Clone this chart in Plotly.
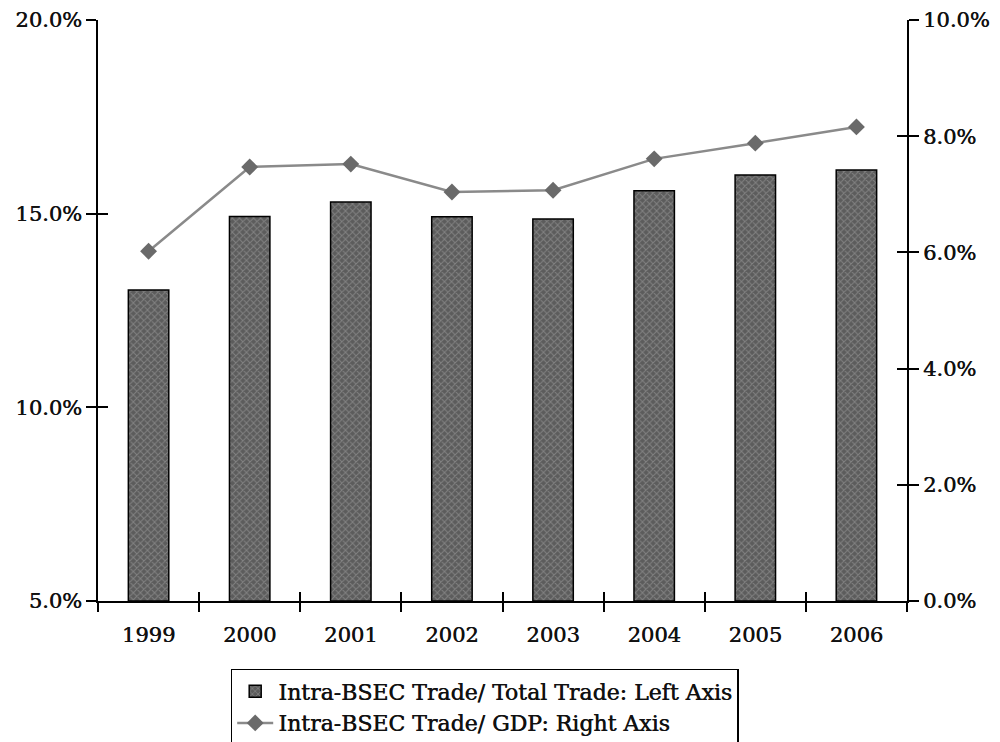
import plotly.graph_objects as go

years = ["1999", "2000", "2001", "2002", "2003", "2004", "2005", "2006"]
trade_share = [13.03, 14.93, 15.30, 14.92, 14.86, 15.59, 16.00, 16.13]   # left axis, %
trade_gdp = [6.02, 7.47, 7.52, 7.04, 7.07, 7.61, 7.88, 8.16]           # right axis, %
left_ticks = [5, 10, 15, 20]
right_ticks = [0, 2, 4, 6, 8, 10]

FONT = "DejaVu Serif"
SHADOW = "0.5px 0px 0px #111111"
fig = go.Figure()
fig.add_trace(go.Bar(
    x=years, y=[v - 5 for v in trade_share], base=5,
    name="Intra-BSEC Trade/ Total Trade: Left Axis",
    marker=dict(color="#5c5c5c", line=dict(color="#000000", width=1.5),
                pattern=dict(shape="x", fgcolor="#a8a8a8", size=5, solidity=0.35)),
    width=0.4, yaxis="y"))
fig.add_trace(go.Scatter(
    x=years, y=trade_gdp, name="Intra-BSEC Trade/ GDP: Right Axis",
    mode="lines+markers", line=dict(color="#8a8a8a", width=2.5),
    marker=dict(symbol="diamond", size=13, color="#6a6a6a"), yaxis="y2"))
# invisible helper traces for overlay axes (crossing ticks)
fig.add_trace(go.Scatter(x=years, y=[None]*len(years), xaxis="x2", yaxis="y3",
                         showlegend=False, hoverinfo="skip"))
fig.add_trace(go.Scatter(x=years, y=[None]*len(years), yaxis="y4",
                         showlegend=False, hoverinfo="skip"))

tickfont = dict(family=FONT, size=21, color="#111111", shadow=SHADOW)
fig.update_layout(
    width=1000, height=742,
    margin=dict(l=98, r=93, t=20, b=141, autoexpand=False),
    paper_bgcolor="white", plot_bgcolor="white",
    font=dict(family=FONT, color="#111111"),
    xaxis=dict(type="category", categoryarray=years, range=[-0.5, 7.5],
               showline=True, linecolor="black", linewidth=1.5,
               ticks="outside", tickson="boundaries", ticklen=9, tickwidth=1.5, tickcolor="black",
               ticklabelstandoff=14,
               tickfont=tickfont, showgrid=False, zeroline=False),
    xaxis2=dict(type="category", categoryarray=years, range=[-0.5, 7.5], overlaying="x",
                anchor="y", side="bottom", showline=False,
                ticks="inside", tickson="boundaries", ticklen=9, tickwidth=1.5, tickcolor="black",
                showticklabels=False, showgrid=False, zeroline=False),
    yaxis=dict(range=[5, 20], tickvals=left_ticks, ticktext=[f"{v:.1f}%" for v in left_ticks],
               showline=True, linecolor="black", linewidth=1.5,
               ticks="outside", ticklen=10, tickwidth=1.5, tickcolor="black",
               tickfont=tickfont, showgrid=False, zeroline=False),
    yaxis2=dict(range=[0, 10], tickvals=right_ticks, ticktext=[f"{v:.1f}%" for v in right_ticks],
                overlaying="y", side="right", anchor="x",
                showline=True, linecolor="black", linewidth=1.5,
                ticks="outside", ticklen=10, tickwidth=1.5, tickcolor="black",
                tickfont=tickfont, showgrid=False, zeroline=False),
    yaxis3=dict(range=[5, 20], tickvals=left_ticks, overlaying="y", side="left", anchor="x",
                ticks="inside", ticklen=10, tickwidth=1.5, tickcolor="black",
                showticklabels=False, showline=False, showgrid=False, zeroline=False),
    yaxis4=dict(range=[0, 10], tickvals=right_ticks, overlaying="y", side="right", anchor="x",
                ticks="inside", ticklen=10, tickwidth=1.5, tickcolor="black",
                showticklabels=False, showline=False, showgrid=False, zeroline=False),
    showlegend=True,
    legend=dict(x=0.478, xanchor="center", y=-0.117, yanchor="top",
                bordercolor="black", borderwidth=1.5, bgcolor="white",
                font=dict(family=FONT, size=22, color="#111111", shadow=SHADOW),
                tracegroupgap=0, itemwidth=36),
    bargap=0.6,
)
fig.write_html("out.html")
